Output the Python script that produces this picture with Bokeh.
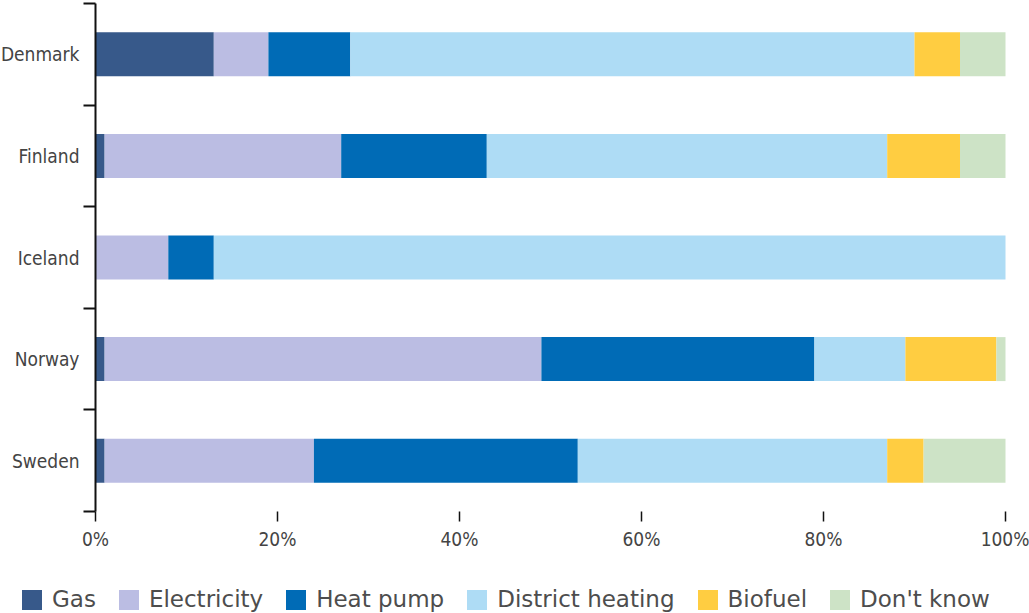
from bokeh.plotting import figure
from bokeh.models import FixedTicker, Legend, LegendItem, Range1d, ColumnDataSource
from bokeh.embed import file_html
from bokeh.resources import INLINE

countries = ["Denmark", "Finland", "Iceland", "Norway", "Sweden"]
series = ["Gas", "Electricity", "Heat pump", "District heating", "Biofuel", "Don't know"]
gas = [13, 1, 0, 1, 1]
electricity = [6, 26, 8, 48, 23]
heat_pump = [9, 16, 5, 30, 29]
district_heating = [62, 44, 87, 10, 34]
biofuel = [5, 8, 0, 10, 4]
dont_know = [5, 5, 0, 1, 9]
colors = ["#37598a", "#bbbde3", "#006bb6", "#aedcf5", "#ffcd41", "#cde3c6"]
x_ticks = [0, 20, 40, 60, 80, 100]

values = [gas, electricity, heat_pump, district_heating, biofuel, dont_know]
n = len(countries)
ypos = [n - 1 - i + 0.5 for i in range(n)]

LABEL_FONT = "'DejaVu Sans Condensed', sans-serif"
LEGEND_FONT = "'DejaVu Sans', sans-serif"

# layout in pixels (figure-relative)
W, H = 1029, 613
PLOT_LEFT, PLOT_RIGHT = 95, 1005     # where 0% and 100% fall
PLOT_TOP, PLOT_BOTTOM = 3, 511       # where the category band starts/ends
xs = (PLOT_RIGHT - PLOT_LEFT) / 100.0
ys = (PLOT_BOTTOM - PLOT_TOP) / n

p = figure(width=W, height=H, output_backend="svg", toolbar_location=None,
           x_range=Range1d(-PLOT_LEFT / xs, 100 + (W - PLOT_RIGHT) / xs),
           y_range=Range1d(-(H - PLOT_BOTTOM) / ys, n + PLOT_TOP / ys),
           min_border_left=0, min_border_right=0, min_border_top=0, min_border_bottom=0)
p.outline_line_color = None
p.xgrid.visible = False
p.ygrid.visible = False

data = {"y": ypos}
for s, v in zip(series, values):
    data[s] = v
src = ColumnDataSource(data)
renderers = p.hbar_stack(series, y="y", height=0.433, color=colors, source=src, line_color=None)

# x axis (placed at y = 0)
xa = p.xaxis[0]
xa.fixed_location = 0
xa.bounds = (0, 100)
xa.ticker = FixedTicker(ticks=x_ticks)
xa.major_label_overrides = {t: f"{t}%" for t in x_ticks}
xa.axis_line_color = None
xa.major_tick_in = 0
xa.major_tick_out = 10
xa.major_tick_line_width = 1.5
xa.major_tick_line_color = "#111111"
xa.minor_tick_line_color = None
xa.major_label_standoff = 6
xa.major_label_text_font = LABEL_FONT
xa.major_label_text_font_size = "19px"
xa.major_label_text_color = "#444444"

# y axis (placed at x = 0)
ya = p.yaxis[0]
ya.fixed_location = 0
ya.bounds = (0, n)
ya.ticker = FixedTicker(ticks=ypos, minor_ticks=list(range(n + 1)))
ya.major_label_overrides = {y: c for y, c in zip(ypos, countries)}
ya.axis_line_width = 2
ya.axis_line_color = "#111111"
ya.major_tick_line_color = None
ya.major_tick_in = 0
ya.major_tick_out = 12
ya.minor_tick_in = 0
ya.minor_tick_out = 12
ya.minor_tick_line_width = 2
ya.minor_tick_line_color = "#111111"
ya.major_label_standoff = 4
ya.major_label_text_font = LABEL_FONT
ya.major_label_text_font_size = "19px"
ya.major_label_text_color = "#444444"

items = [LegendItem(label=s, renderers=[r]) for s, r in zip(series, renderers)]
legend = Legend(items=items, orientation="horizontal", location=(19, 1),
                glyph_width=25, glyph_height=25, label_standoff=8, spacing=20,
                padding=0, margin=0, border_line_color=None, background_fill_alpha=0,
                label_text_font=LEGEND_FONT, label_text_font_size="23px",
                label_text_color="#4d4d4d", label_height=25)
p.add_layout(legend, "center")

open("out.html", "w").write(file_html(p, INLINE))
